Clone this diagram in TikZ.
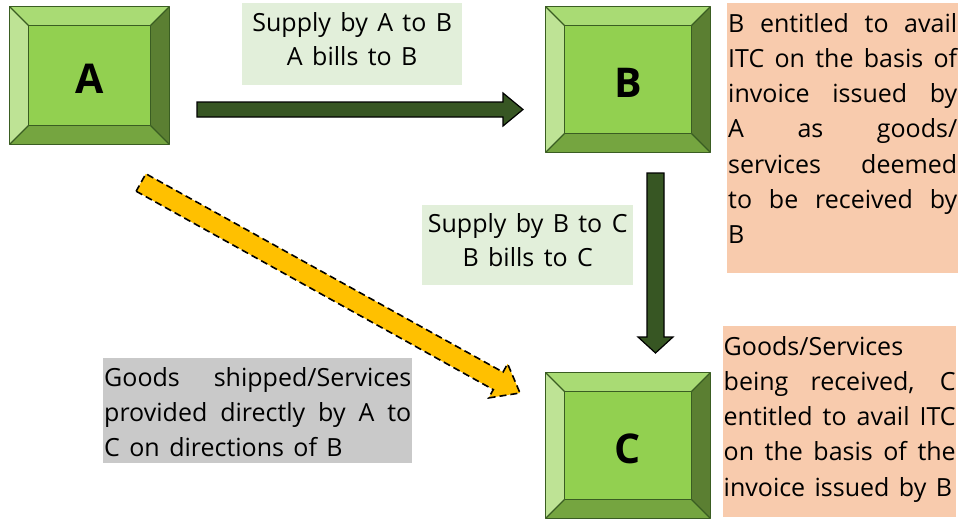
\documentclass[tikz,border=0pt]{standalone}
\usepackage{fontspec}
\setmainfont[WordSpace=1.45]{Open Sans}
\usetikzlibrary{calc}

\definecolor{faceGreen}{HTML}{92D050}
\definecolor{bevelTop}{HTML}{A9DB74}
\definecolor{bevelLeft}{HTML}{BEE395}
\definecolor{bevelRight}{HTML}{5B7F32}
\definecolor{bevelBottom}{HTML}{75A540}
\definecolor{edgeGreen}{HTML}{3A5D22}
\definecolor{arrowGreen}{HTML}{375623}
\definecolor{arrowGold}{HTML}{FFC000}
\definecolor{noteGreen}{HTML}{E2EFDA}
\definecolor{notePeach}{HTML}{F8CBAD}
\definecolor{noteGrey}{HTML}{C9C9C9}

\pgfdeclarelayer{background}
\pgfsetlayers{background,main}

% width of the slanted rim around each key
\newcommand\bevelw{18.5}
% justified line: spaces stretched to the full line width
\newcommand\jline[1]{\makebox[\linewidth][s]{#1}}
\newcommand\notefont{\fontsize{25}{35.2}\selectfont}

% rim faces and outlines of a key-shaped node
\newcommand\keycapfaces[1]{%
  \begin{pgfonlayer}{background}
    \fill[bevelTop] (#1.north west) -- (#1.north east) -- ($(#1.north east)+(-\bevelw,\bevelw)$) -- ($(#1.north west)+(\bevelw,\bevelw)$) -- cycle;
    \fill[bevelLeft] (#1.north west) -- ($(#1.north west)+(\bevelw,\bevelw)$) -- ($(#1.south west)+(\bevelw,-\bevelw)$) -- (#1.south west) -- cycle;
    \fill[bevelRight] (#1.north east) -- ($(#1.north east)+(-\bevelw,\bevelw)$) -- ($(#1.south east)+(-\bevelw,-\bevelw)$) -- (#1.south east) -- cycle;
    \fill[bevelBottom] (#1.south west) -- ($(#1.south west)+(\bevelw,-\bevelw)$) -- ($(#1.south east)+(-\bevelw,-\bevelw)$) -- (#1.south east) -- cycle;
    \fill[faceGreen] ($(#1.north west)+(\bevelw,\bevelw)$) rectangle ($(#1.south east)+(-\bevelw,-\bevelw)$);
    \draw[keyedge] (#1.north west) rectangle (#1.south east);
    \draw[keyedge] ($(#1.north west)+(\bevelw,\bevelw)$) rectangle ($(#1.south east)+(-\bevelw,-\bevelw)$);
    \draw[keyedge] (#1.north west) -- ++(\bevelw,\bevelw);
    \draw[keyedge] (#1.north east) -- ++(-\bevelw,\bevelw);
    \draw[keyedge] (#1.south west) -- ++(\bevelw,-\bevelw);
    \draw[keyedge] (#1.south east) -- ++(-\bevelw,-\bevelw);
  \end{pgfonlayer}}

% block arrow from #2 to #3: shaft half width #4, head half width #5, head length #6
\newcommand\blockarrow[6]{%
  \coordinate (#2-#3-base) at ($(#3)!#6!(#2)$);
  \draw[#1] ($(#2)!#4!-90:(#3)$) -- ($(#2-#3-base)!#4!-90:(#3)$) -- ($(#2-#3-base)!#5!-90:(#3)$)
    -- (#3) -- ($(#2-#3-base)!#5!90:(#3)$) -- ($(#2-#3-base)!#4!90:(#3)$) -- ($(#2)!#4!90:(#3)$) -- cycle;}

\tikzset{
  keycap/.style={rectangle, inner sep=0pt, text height=36.3pt, text depth=0pt,
    font=\fontsize{41}{41}\selectfont\bfseries},
  keyedge/.style={draw=edgeGreen, line width=1.3pt, line join=round},
  flowarrow/.style={fill=arrowGreen, draw=black, line width=1.2pt, line join=miter},
  directarrow/.style={fill=arrowGold, draw=black, line width=1.6pt, dash pattern=on 7pt off 4pt, line join=miter},
  notebox/.style={rectangle, inner ysep=0pt, anchor=north west},
}

\begin{document}
\begin{tikzpicture}[x=1pt, y=-1pt]
  \begin{pgfonlayer}{background}
    \fill[white] (0,0) rectangle (967,520);
  \end{pgfonlayer}
  \useasboundingbox (0,0) rectangle (967,520);

  % the three parties
  \node[keycap, minimum width=159pt, minimum height=137pt] (A) at (89.5,75.5) {A};
  \node[keycap, minimum width=164pt, minimum height=145pt] (B) at (628,79.5) {B};
  \node[keycap, minimum width=164pt, minimum height=145pt] (C) at (628,445.5) {C};
  \keycapfaces{A}
  \keycapfaces{B}
  \keycapfaces{C}

  % arrow ends
  \coordinate (ab-tail) at (197,109.5);
  \coordinate (ab-tip) at (523,109.5);
  \coordinate (bc-tail) at (655.5,173);
  \coordinate (bc-tip) at (655.5,353);
  \coordinate (ac-tail) at (141,182.5);
  \coordinate (ac-tip) at (520,393);

  \blockarrow{flowarrow}{ab-tail}{ab-tip}{7.5pt}{16.5pt}{20pt}
  \blockarrow{flowarrow}{bc-tail}{bc-tip}{8.5pt}{17.5pt}{16pt}
  \blockarrow{directarrow}{ac-tail}{ac-tip}{10pt}{19.5pt}{25pt}

  % flow labels
  \node[notebox, fill=noteGreen, inner xsep=0pt] (supAB) at (242,3)
    {\parbox[t][82pt][t]{220pt}{\centering\fontsize{25}{34}\selectfont\rule{0pt}{28.7pt}Supply by A to B\\A bills to B}};
  \node[notebox, fill=noteGreen, inner xsep=0pt] (supBC) at (422,205)
    {\parbox[t][80pt][t]{211pt}{\centering\fontsize{25}{34}\selectfont\rule{0pt}{27.3pt}Supply by B to C\\B bills to C}};

  % notes
  \node[notebox, fill=notePeach, inner xsep=1pt] (noteB) at (727,3)
    {\parbox[t][270pt][t]{229pt}{\notefont\rule{0pt}{29pt}\jline{B entitled to avail}\\
      \jline{ITC on the basis of}\\
      \jline{invoice issued by}\\
      \jline{A as goods/}\\
      \jline{services deemed}\\
      \jline{to be received by}\\
      B}};
  \node[notebox, fill=notePeach, inner xsep=0.5pt] (noteC) at (723,326)
    {\parbox[t][191pt][t]{232pt}{\notefont\rule{0pt}{29pt}Goods/Services\\
      \jline{being received, C}\\
      \jline{entitled to avail ITC}\\
      \jline{on the basis of the}\\
      invoice issued by B}};
  \node[notebox, fill=noteGrey, inner xsep=1pt] (noteAC) at (103,358)
    {\parbox[t][105pt][t]{307pt}{\notefont\rule{0pt}{28pt}\jline{Goods shipped/Services}\\
      \jline{provided directly by A to}\\
      C on directions of B}};
\end{tikzpicture}
\end{document}
